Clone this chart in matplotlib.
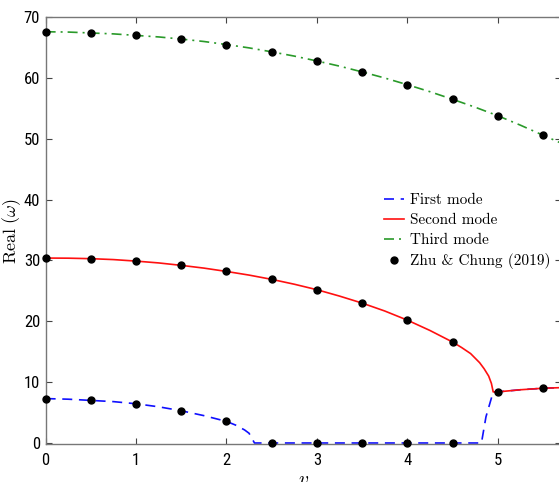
import numpy as np
import matplotlib
matplotlib.use("Agg")
import matplotlib.pyplot as plt

plt.rcParams['mathtext.fontset'] = 'cm'

# first mode (blue dashed)
v_first = [0, 0.25, 0.5, 0.75, 1.0, 1.25, 1.5, 1.75, 2.0, 2.1, 2.2, 2.25, 2.31,
           3.0, 4.0, 4.82, 4.87, 4.95, 5.0, 5.25, 5.5, 5.7]
w_first = [7.3, 7.2, 7.0, 6.8, 6.45, 5.95, 5.3, 4.5, 3.55, 2.95, 2.15, 1.6, 0.0,
           0.0, 0.0, 0.0, 4.3, 8.4, 8.4, 8.75, 9.0, 9.1]

# second mode (red solid)
v_second = [0, 0.25, 0.5, 0.75, 1.0, 1.25, 1.5, 1.75, 2.0, 2.25, 2.5, 2.75, 3.0,
            3.25, 3.5, 3.75, 4.0, 4.25, 4.5, 4.6, 4.7, 4.8, 4.85, 4.9, 4.93, 4.95,
            5.0, 5.25, 5.5, 5.7]
w_second = [30.4, 30.38, 30.3, 30.15, 29.9, 29.6, 29.2, 28.75, 28.2, 27.6, 26.9, 26.1, 25.2,
            24.15, 23.0, 21.7, 20.2, 18.5, 16.6, 15.7, 14.7, 13.2, 12.2, 11.0, 9.8, 8.4,
            8.4, 8.75, 9.0, 9.1]

# third mode (green dash-dot)
v_third = [0, 0.25, 0.5, 0.75, 1.0, 1.25, 1.5, 1.75, 2.0, 2.25, 2.5, 2.75, 3.0,
           3.25, 3.5, 3.75, 4.0, 4.25, 4.5, 4.75, 5.0, 5.25, 5.5, 5.7]
w_third = [67.6, 67.55, 67.4, 67.25, 67.0, 66.75, 66.4, 66.0, 65.5, 64.95, 64.3, 63.6, 62.8,
           61.95, 61.0, 60.0, 58.9, 57.75, 56.5, 55.2, 53.8, 52.25, 50.6, 49.3]

# Zhu & Chung (2019)
v_ref = [0, 0.5, 1.0, 1.5, 2.0, 2.5, 3.0, 3.5, 4.0, 4.5,
         0, 0.5, 1.0, 1.5, 2.0, 2.5, 3.0, 3.5, 4.0, 4.5, 5.0, 5.5,
         0, 0.5, 1.0, 1.5, 2.0, 2.5, 3.0, 3.5, 4.0, 4.5, 5.0, 5.5]
w_ref = [7.3, 7.0, 6.45, 5.3, 3.55, 0, 0, 0, 0, 0,
         30.4, 30.3, 29.9, 29.2, 28.2, 26.9, 25.2, 23.0, 20.2, 16.6, 8.4, 9.0,
         67.6, 67.4, 67.0, 66.4, 65.5, 64.3, 62.8, 61.0, 58.9, 56.5, 53.8, 50.6]

xticks = [0, 1, 2, 3, 4, 5]
yticks = [0, 10, 20, 30, 40, 50, 60, 70]

fig = plt.figure(figsize=(5.59, 4.82), dpi=100)
ax = fig.add_axes([0.0816, 0.0784, 0.922, 0.886])

ax.plot(v_first, w_first, color='#1010ff', lw=1.2, linestyle=(0, (6, 4)),
        label='First mode', clip_on=False)
ax.plot(v_second, w_second, color='#ff1010', lw=1.2, label='Second mode', clip_on=False)
ax.plot(v_third, w_third, color='#2a9a2a', lw=1.2, linestyle=(0, (6, 3, 1.2, 3)),
        label='Third mode', clip_on=False)
ax.plot(v_ref, w_ref, 'o', color='black', markersize=5, label='Zhu & Chung (2019)',
        clip_on=False, zorder=5)

ax.set_xlim(0, 5.7)
ax.set_ylim(-0.2, 70)
ax.set_xticks(xticks)
ax.set_yticks(yticks)

tick_font = {'family': ['Liberation Sans Narrow', 'DejaVu Sans Condensed',
                        'Roboto Condensed', 'DejaVu Sans'],
             'stretch': 'condensed', 'size': 12}
ax.set_xticklabels([str(t) for t in xticks], fontdict=tick_font)
ax.set_yticklabels([str(t) for t in yticks], fontdict=tick_font)
ax.tick_params(direction='in', top=True, right=True, length=4, width=0.8,
               color='#444444')
ax.tick_params(axis='x', pad=6)
ax.tick_params(axis='y', pad=4)
for s in ax.spines.values():
    s.set_color('#777777')
    s.set_linewidth(1.0)

ax.set_ylabel(r'$\mathrm{Real}\ (\omega)$', fontsize=13)
ax.yaxis.set_label_coords(-0.043, 0.5)
ax.set_xlabel(r'$v$', fontsize=14, labelpad=2)

ax.legend(loc='upper left', bbox_to_anchor=(376 / 559, 1 - 186 / 482),
          bbox_transform=fig.transFigure, frameon=False, borderpad=0,
          handlelength=1.3, handletextpad=0.4, labelspacing=0.4, numpoints=1,
          prop={'family': 'cmr10', 'size': 11})

fig.savefig('out.png', dpi=100)
